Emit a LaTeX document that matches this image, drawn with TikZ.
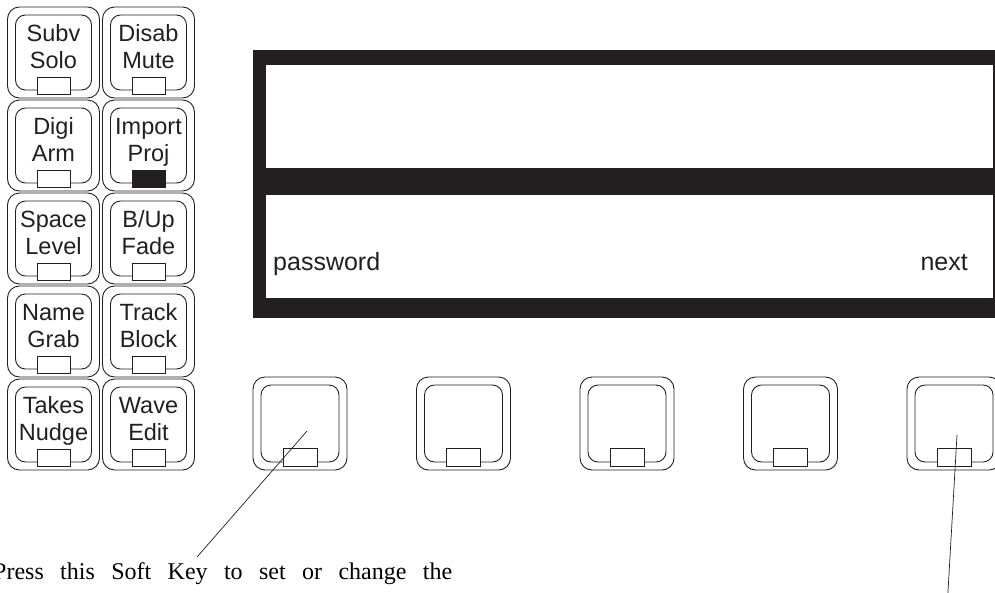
\documentclass[tikz,border=0pt]{standalone}
\usepackage{fontspec}
\setmainfont{Liberation Serif}
\setsansfont{Liberation Sans}
\definecolor{ink}{HTML}{231F20}
\begin{document}
\begin{tikzpicture}[x=1pt,y=-1pt,
  keyout/.style={draw=ink, line width=0.9pt, rounded corners=12pt, minimum width=92pt, minimum height=91pt, inner sep=0pt},
  keyin/.style={draw=ink, line width=0.9pt, rounded corners=10pt, minimum width=76pt, minimum height=75pt, inner sep=0pt},
  lamp/.style={draw=ink, line width=0.9pt, minimum width=33pt, minimum height=17pt, inner sep=0pt},
  softout/.style={keyout, minimum width=94pt, minimum height=93pt},
  softin/.style={keyin, minimum width=78pt, minimum height=77pt},
  softlamp/.style={lamp, minimum width=34pt, minimum height=18pt},
  keytext/.style={font=\sffamily\fontsize{23.5}{28}\selectfont, text=ink, inner sep=0pt, anchor=base},
  disptext/.style={font=\sffamily\fontsize{25}{30}\selectfont, text=ink, inner sep=0pt},
  leader/.style={draw=ink, line width=0.7pt}]
\useasboundingbox (0,0) rectangle (995,592);
\clip (0,0) rectangle (995,592);
% left key block
\foreach \c/\r/\la/\lb/\lf [count=\i] in {
  0/0/Subv/Solo/white, 1/0/Disab/Mute/white,
  0/1/Digi/Arm/white, 1/1/Import/Proj/ink,
  0/2/Space/Level/white, 1/2/B\slash Up/Fade/white,
  0/3/Name/Grab/white, 1/3/Track/Block/white,
  0/4/Takes/Nudge/white, 1/4/Wave/Edit/white}{
  \pgfmathsetmacro\cx{53.5+95*\c}
  \pgfmathsetmacro\cy{52.5+93*\r}
  \node[keyout] (L\i) at (\cx,\cy) {};
  \node[keyin] (Li\i) at (\cx,\cy) {};
  \node[lamp, fill=\lf] (Ll\i) at (\cx,\cy+33) {};
  \node[keytext] (Lta\i) at (\cx,\cy-11) {\la};
  \node[keytext] (Ltb\i) at (\cx,\cy+15.5) {\lb};
}
% display
\node[fill=ink, anchor=north west, minimum width=760pt, minimum height=268pt, inner sep=0pt] (display) at (253,50) {};
\node[fill=white, anchor=north west, minimum width=727pt, minimum height=103pt, inner sep=0pt] (win1) at (266,65) {};
\node[fill=white, anchor=north west, minimum width=727pt, minimum height=103pt, inner sep=0pt] (win2) at (266,195) {};
\node[disptext, anchor=base west] (pw) at (273,270) {password};
\node[disptext, anchor=base east] (nx) at (968,270) {next};
% soft keys
\foreach \i in {0,...,4}{
  \pgfmathsetmacro\cx{300+163.5*\i}
  \node[softout] (S\i) at (\cx,423.5) {};
  \node[softin] (Si\i) at (\cx,423.5) {};
  \node[softlamp, fill=white] (Sl\i) at (\cx,457) {};
}
% note text
\node[anchor=base west, inner sep=0pt, font=\rmfamily\fontsize{24}{28}\selectfont, text=black] (note) at (-7,579) {\makebox[459pt][s]{Press this Soft Key to set or change the}};
% leaders
\coordinate (a1) at (307,431);
\coordinate (b1) at (197,557);
\coordinate (a2) at (957,435);
\coordinate (b2) at (947.5,600);
\draw[leader] (a1) -- (b1);
\draw[leader] (a2) -- (b2);
\end{tikzpicture}
\end{document}
